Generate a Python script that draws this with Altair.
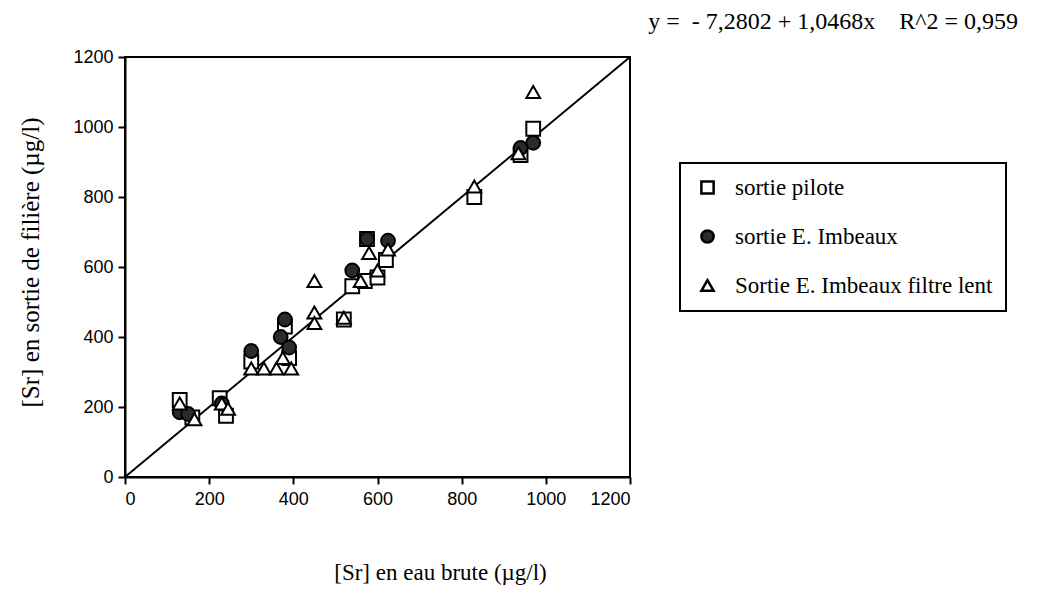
import altair as alt
import pandas as pd

series_names = ["sortie pilote", "sortie E. Imbeaux", "Sortie E. Imbeaux filtre lent"]

pilote_x = [130, 160, 225, 240, 300, 380, 390, 520, 540, 570, 575, 600, 620, 830, 940, 970]
pilote_y = [220, 170, 225, 175, 330, 430, 340, 450, 545, 560, 680, 570, 620, 800, 920, 995]

imbeaux_x = [130, 150, 230, 300, 370, 380, 390, 540, 575, 625, 940, 970]
imbeaux_y = [185, 180, 210, 360, 400, 450, 370, 590, 680, 675, 940, 955]

lent_x = [130, 165, 230, 245, 300, 330, 360, 395, 375, 450, 450, 450, 520, 560, 580, 600, 625, 830, 935, 970]
lent_y = [210, 165, 210, 195, 310, 310, 310, 310, 340, 560, 470, 440, 455, 560, 640, 590, 650, 830, 925, 1100]

ticks = [0, 200, 400, 600, 800, 1000, 1200]

equation = "y =\u00a0\u00a0- 7,2802 + 1,0468x\u00a0\u00a0\u00a0\u00a0R^2 = 0,959"

rows = []
for i, (xs, ys) in enumerate([(pilote_x, pilote_y), (imbeaux_x, imbeaux_y), (lent_x, lent_y)]):
    for k, (a, b) in enumerate(zip(xs, ys)):
        rows.append({"x": a, "y": b, "serie": series_names[i], "ord": i * 100 + k})
df = pd.DataFrame(rows)

line_df = pd.DataFrame({"x": [0, 1200], "y": [0, 1200]})

xscale = alt.Scale(domain=[0, 1200], nice=False)
yscale = alt.Scale(domain=[0, 1200], nice=False)

serif = "Liberation Serif"
sans = "Liberation Sans"

line = alt.Chart(line_df).mark_line(color="black", strokeWidth=2).encode(
    x=alt.X("x:Q", scale=xscale,
            axis=alt.Axis(values=ticks, format="d", title="[Sr] en eau brute (µg/l)", grid=False,
                          domainColor="black", domainWidth=2, tickColor="black", tickWidth=2, tickSize=7,
                          labelFont=sans, labelFontSize=18, labelColor="black", labelPadding=6,
                          titleFont=serif, titleFontSize=23, titleFontWeight="normal", titleColor="black",
                          titleX=315, titleY=95, titleBaseline="middle")),
    y=alt.Y("y:Q", scale=yscale,
            axis=alt.Axis(values=ticks, format="d", title="[Sr] en sortie de filière (µg/l)", grid=False,
                          domainColor="black", domainWidth=2, tickColor="black", tickWidth=2, tickSize=7,
                          labelFont=sans, labelFontSize=18, labelColor="black", labelPadding=5,
                          titleFont=serif, titleFontSize=25, titleFontWeight="normal", titleColor="black",
                          titleX=-95, titleY=205, titleAngle=-90, titleBaseline="middle",
                          titleAlign="center")),
)

legend = alt.Legend(title=None, orient="none", legendX=555, legendY=106,
                    strokeColor="black", padding=13, cornerRadius=0,
                    labelFont=serif, labelFontSize=23, labelColor="black", labelLimit=500,
                    rowPadding=25, symbolStrokeWidth=2.5, symbolSize=150, symbolOffset=3,
                    labelOffset=16, fillColor="white")

points = alt.Chart(df).mark_point(size=190, strokeWidth=2, stroke="black", opacity=1, fillOpacity=1).encode(
    x=alt.X("x:Q", scale=xscale),
    y=alt.Y("y:Q", scale=yscale),
    shape=alt.Shape("serie:N", sort=series_names,
                    scale=alt.Scale(domain=series_names, range=["square", "circle", "triangle-up"]),
                    legend=legend),
    fill=alt.Fill("serie:N", sort=series_names,
                  scale=alt.Scale(domain=series_names, range=["white", "#2b2b2b", "white"]),
                  legend=legend),
    order=alt.Order("ord:Q"),
)

eq = alt.Chart(pd.DataFrame({"t": [equation]})).mark_text(
    font=serif, fontSize=24, align="right", baseline="middle", color="black"
).encode(text="t:N", x=alt.value(893), y=alt.value(-35))

chart = alt.layer(line, points, eq).properties(
    width=505, height=420,
    autosize=alt.AutoSizeParams(type="none"),
    padding={"left": 117, "top": 49, "right": 397, "bottom": 109},
).configure_view(stroke="black", strokeWidth=2).configure_legend(strokeWidth=2)

chart.save("out.html", embed_options={"renderer": "svg", "actions": False})
